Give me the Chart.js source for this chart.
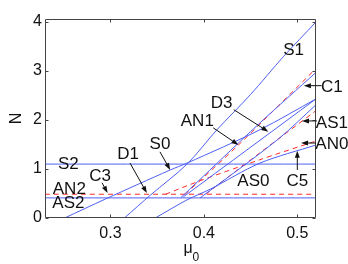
<!DOCTYPE html>
<html>
<head>
<meta charset="utf-8">
<script src="https://cdn.jsdelivr.net/npm/chart.js@4/dist/chart.umd.min.js"></script>
<style>
html, body { margin: 0; padding: 0; background: #fff; }
#wrap { width: 348px; height: 264px; }
</style>
</head>
<body>
<div id="wrap"><canvas id="chart"></canvas></div>
<script>
const blue = '#4d60f5'
const red = '#ff2a2a'
const ink = '#111'
const fontFamily = "'Liberation Sans', Arial, sans-serif"

const xTicks = [0.3, 0.4, 0.5]
const yTicks = [0, 1, 2, 3, 4]

// blue solid curves
const s2Mu = [0.23, 0.52]
const s2N = [1.1, 1.1]
const as2Mu = [0.23, 0.52]
const as2N = [0.41, 0.41]
const s1Mu = [0.315, 0.343, 0.382, 0.414, 0.450, 0.485, 0.52]
const s1N = [0, 0.47, 1.10, 1.80, 2.52, 3.29, 4.0]
const s0Mu = [0.251, 0.295, 0.364, 0.382, 0.460, 0.52]
const s0N = [0, 0.39, 0.98, 1.12, 1.80, 2.43]
const as0Mu = [0.348, 0.382, 0.407, 0.460, 0.52]
const as0N = [0, 0.37, 0.59, 1.12, 1.49]
const c1Mu = [0.375, 0.460, 0.52]
const c1N = [0.41, 1.94, 2.97]
const as1Mu = [0.378, 0.52]
const as1N = [0.43, 2.43]
const as1bMu = [0.396, 0.479, 0.52]
const as1bN = [0.41, 1.6, 2.31]

// red dashed curves
const an2Mu = [0.23, 0.52]
const an2N = [0.485, 0.485]
const an1Mu = [0.38, 0.437, 0.52]
const an1N = [0.485, 1.49, 3.05]
const an1bMu = [0.402, 0.460, 0.52]
const an1bN = [0.485, 1.33, 2.19]
const an0Mu = [0.359, 0.396, 0.460, 0.52]
const an0N = [0.485, 0.76, 1.19, 1.57]

// text labels [text, mu, N]
const labels = [
    ['S1', 0.496, 3.44], ['C1', 0.537, 2.68], ['D3', 0.419, 2.37],
    ['AN1', 0.393, 2.0], ['AS1', 0.537, 1.96], ['AN0', 0.537, 1.53],
    ['C5', 0.5, 0.76], ['AS0', 0.453, 0.76], ['S0', 0.353, 1.53],
    ['D1', 0.319, 1.31], ['C3', 0.289, 0.88], ['S2', 0.255, 1.12],
    ['AN2', 0.256, 0.61], ['AS2', 0.255, 0.31]
]
// arrows [fromMu, fromN, toMu, toN]
const arrows = [
    [0.526, 2.70, 0.507, 2.70],
    [0.432, 2.21, 0.469, 1.76],
    [0.410, 1.84, 0.437, 1.49],
    [0.521, 1.98, 0.505, 1.98],
    [0.520, 1.53, 0.504, 1.53],
    [0.5, 0.98, 0.5, 1.37],
    [0.353, 1.35, 0.364, 0.98],
    [0.321, 1.12, 0.339, 0.51],
    [0.291, 0.72, 0.297, 0.51]
]

function pts(mu, n) {
    return mu.map((m, i) => ({ x: m, y: n[i] }))
}

function curve(mu, n, dashed) {
    return {
        data: pts(mu, n),
        showLine: true,
        borderColor: dashed ? red : blue,
        borderWidth: 1,
        borderDash: dashed ? [5, 4] : [],
        pointRadius: 0,
        tension: 0.3,
        fill: false
    }
}

const datasets = [
    curve(s2Mu, s2N), curve(as2Mu, as2N), curve(s1Mu, s1N), curve(s0Mu, s0N),
    curve(as0Mu, as0N), curve(c1Mu, c1N), curve(as1Mu, as1N), curve(as1bMu, as1bN),
    curve(an2Mu, an2N, true), curve(an1Mu, an1N, true), curve(an1bMu, an1bN, true),
    curve(an0Mu, an0N, true)
]

const frame = {
    id: 'frame',
    afterDatasetsDraw(chart) {
        const { ctx, chartArea: a, scales: { x, y } } = chart
        ctx.save()
        // box and inward ticks
        ctx.strokeStyle = '#444'
        ctx.lineWidth = 1
        const l = Math.round(a.left) + 0.5, r = Math.round(a.right) - 0.5
        const t = Math.round(a.top) + 0.5, b = Math.round(a.bottom) - 0.5
        ctx.beginPath()
        ctx.rect(l, t, r - l, b - t)
        xTicks.forEach(v => {
            const px = Math.round(x.getPixelForValue(v)) + 0.5
            ctx.moveTo(px, b); ctx.lineTo(px, b - 3)
            ctx.moveTo(px, t); ctx.lineTo(px, t + 3)
        })
        yTicks.forEach(v => {
            const py = Math.round(y.getPixelForValue(v)) + 0.5
            ctx.moveTo(l, py); ctx.lineTo(l + 3, py)
            ctx.moveTo(r, py); ctx.lineTo(r - 3, py)
        })
        ctx.stroke()

        // arrows
        ctx.strokeStyle = ink
        ctx.fillStyle = ink
        arrows.forEach(([m1, n1, m2, n2]) => {
            const x1 = x.getPixelForValue(m1), y1 = y.getPixelForValue(n1)
            const x2 = x.getPixelForValue(m2), y2 = y.getPixelForValue(n2)
            const ang = Math.atan2(y2 - y1, x2 - x1)
            ctx.beginPath()
            ctx.moveTo(x1, y1)
            ctx.lineTo(x2 - 5 * Math.cos(ang), y2 - 5 * Math.sin(ang))
            ctx.stroke()
            ctx.beginPath()
            ctx.moveTo(x2, y2)
            ctx.lineTo(x2 - 7 * Math.cos(ang) + 2.5 * Math.sin(ang), y2 - 7 * Math.sin(ang) - 2.5 * Math.cos(ang))
            ctx.lineTo(x2 - 7 * Math.cos(ang) - 2.5 * Math.sin(ang), y2 - 7 * Math.sin(ang) + 2.5 * Math.cos(ang))
            ctx.closePath()
            ctx.fill()
        })

        // labels
        ctx.font = '17px ' + fontFamily
        ctx.textAlign = 'center'
        ctx.textBaseline = 'middle'
        labels.forEach(([txt, m, n]) => {
            ctx.fillText(txt, x.getPixelForValue(m), y.getPixelForValue(n) + 1)
        })

        // x axis label mu_0
        const cx = (a.left + a.right) / 2 + 10
        ctx.font = '16px ' + fontFamily
        ctx.textAlign = 'left'
        ctx.textBaseline = 'alphabetic'
        ctx.fillText('μ', cx - 7, 253)
        ctx.font = '12px ' + fontFamily
        ctx.fillText('0', cx + 2, 261)
        ctx.restore()
    }
}

new Chart(document.getElementById('chart'), {
    type: 'scatter',
    data: { datasets: datasets },
    options: {
        responsive: true,
        maintainAspectRatio: false,
        animation: false,
        events: [],
        layout: { padding: { left: 0, top: 19, right: 32, bottom: 0 } },
        plugins: { legend: { display: false }, tooltip: { enabled: false } },
        scales: {
            x: {
                type: 'linear',
                min: 0.23,
                max: 0.52,
                afterBuildTicks: s => { s.ticks = xTicks.map(v => ({ value: v })) },
                afterFit: s => { s.height = 46 },
                grid: { display: false, drawTicks: false },
                border: { display: false },
                ticks: {
                    padding: 6,
                    color: ink,
                    font: { family: fontFamily, size: 16 },
                    callback: v => v.toFixed(1)
                }
            },
            y: {
                type: 'linear',
                min: 0,
                max: 4.06,
                afterBuildTicks: s => { s.ticks = yTicks.map(v => ({ value: v })) },
                afterFit: s => { s.width = 45 },
                grid: { display: false, drawTicks: false },
                border: { display: false },
                ticks: {
                    padding: 3,
                    color: ink,
                    font: { family: fontFamily, size: 16 }
                },
                title: {
                    display: true,
                    text: 'N',
                    color: ink,
                    padding: { top: 7, bottom: 0 },
                    font: { family: fontFamily, size: 16 }
                }
            }
        }
    },
    plugins: [frame]
})
</script>
</body>
</html>
